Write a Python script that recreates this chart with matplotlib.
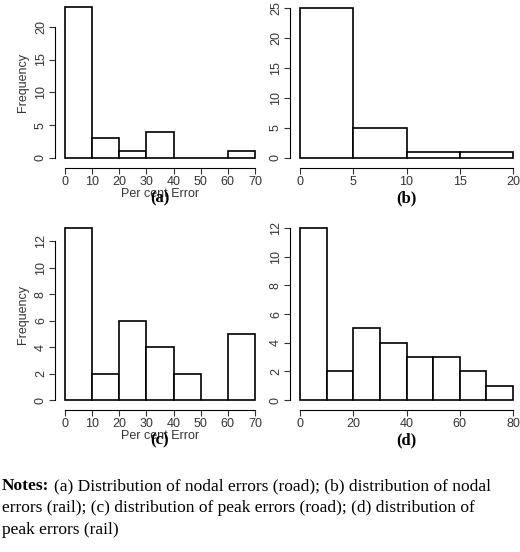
import numpy as np
import matplotlib.pyplot as plt

plt.rcParams['font.family'] = ['Liberation Sans', 'DejaVu Sans']

# histogram data
edges_a = [0, 10, 20, 30, 40, 50, 60, 70]
counts_a = [23, 3, 1, 4, 0, 0, 1]
edges_b = [0, 5, 10, 15, 20]
counts_b = [25, 5, 1, 1]
edges_c = [0, 10, 20, 30, 40, 50, 60, 70]
counts_c = [13, 2, 6, 4, 2, 0, 5]
edges_d = [0, 10, 20, 30, 40, 50, 60, 70, 80]
counts_d = [12, 2, 5, 4, 3, 3, 2, 1]

W, H = 520, 552
fig = plt.figure(figsize=(W / 100, H / 100), dpi=100)


def panel(px0, px1, py_top, py_base, edges, counts, yticks, xticks, tag, labels):
    ax = fig.add_axes([px0 / W, 1 - py_base / H, (px1 - px0) / W, (py_base - py_top) / H])
    ax.bar(edges[:-1], counts, width=np.diff(edges), align='edge',
           facecolor='white', edgecolor='black', linewidth=1.2)
    ax.set_xlim(edges[0], edges[-1])
    ax.set_ylim(0, max(counts))
    for s in ['top', 'right']:
        ax.spines[s].set_visible(False)
    ax.spines['bottom'].set_position(('outward', 7))
    ax.spines['left'].set_position(('outward', 7))
    ax.spines['bottom'].set_bounds(xticks[0], xticks[-1])
    ax.spines['left'].set_bounds(yticks[0], yticks[-1])
    ax.set_xticks(xticks)
    ax.set_yticks(yticks)
    ax.set_yticklabels([str(t) for t in yticks], rotation=90, va='center')
    ax.tick_params(labelsize=9, color='#333333', labelcolor='#333333', length=4, pad=2)
    for p in ax.patches:
        p.set_clip_on(False)
    if labels:
        ax.set_xlabel('Per cent Error', fontsize=9, color='#333333', labelpad=0)
        ax.set_ylabel('Frequency', fontsize=9, color='#333333')
    fig.text((px0 + px1) / 2 / W, 1 - (py_base + 40) / H, tag, ha='center', va='center',
             fontsize=12, fontweight='bold', family='Liberation Serif')
    return ax


panel(65, 255, 7, 158, edges_a, counts_a, [0, 5, 10, 15, 20], edges_a, '(a)', True)
panel(300, 513, 8, 158, edges_b, counts_b, [0, 5, 10, 15, 20, 25], edges_b, '(b)', False)
panel(65, 255, 228, 400, edges_c, counts_c, [0, 2, 4, 6, 8, 10, 12], edges_c, '(c)', True)
panel(300, 513, 228, 400, edges_d, counts_d, [0, 2, 4, 6, 8, 10, 12], [0, 20, 40, 60, 80], '(d)', False)

fig.text(2 / W, 1 - 486 / H, 'Notes:', fontsize=12.5, fontweight='bold',
         family='Liberation Serif', va='center')
fig.text(54 / W, 1 - 486 / H, '(a) Distribution of nodal errors (road); (b) distribution of nodal',
         fontsize=12.5, family='Liberation Serif', va='center')
fig.text(2 / W, 1 - 508 / H, 'errors (rail); (c) distribution of peak errors (road); (d) distribution of',
         fontsize=12.5, family='Liberation Serif', va='center')
fig.text(2 / W, 1 - 530 / H, 'peak errors (rail)',
         fontsize=12.5, family='Liberation Serif', va='center')

fig.savefig('out.png', dpi=100)
